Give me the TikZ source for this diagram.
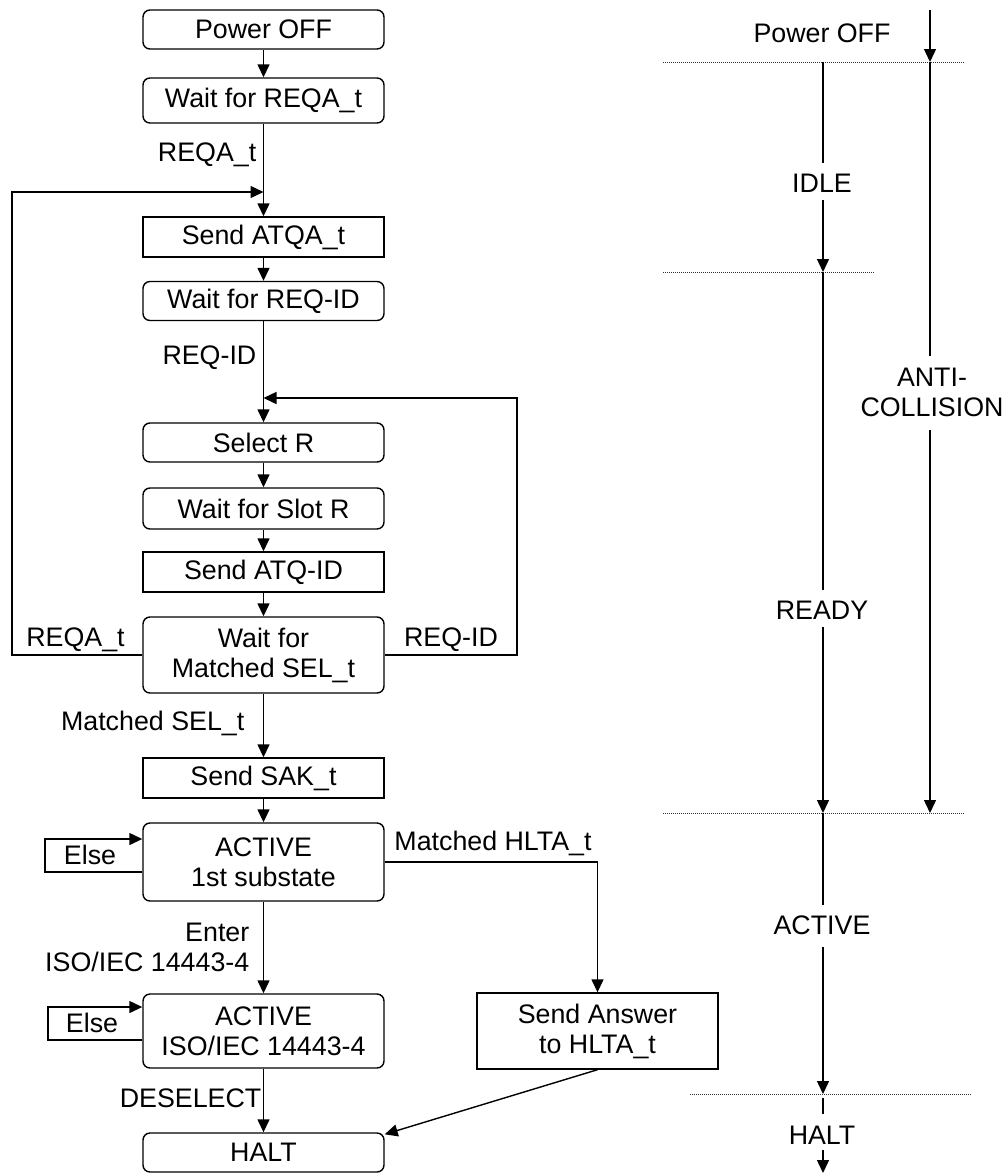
\documentclass[tikz,border=0pt]{standalone}
\usepackage{fontspec}
\setmainfont{Liberation Sans}
\usetikzlibrary{arrows.meta}
\begin{document}
\begin{tikzpicture}[x=1pt,y=-1pt,
  >={Triangle[length=13pt,width=12pt]},
  every path/.style={line width=1.4pt},
  txt/.style={font=\fontsize{26.8}{30}\selectfont, inner sep=0pt, align=center},
  box/.style={txt, draw, line width=1.4pt, minimum width=241pt},
  rbox/.style={box, rounded corners=7pt},
  dotline/.style={line width=0.9pt, dash pattern=on 1pt off 1pt, black!80},
  flow/.style={->}]
\useasboundingbox (0,0) rectangle (1006,1173);

% left column boxes
\node[rbox, minimum height=39pt] (pwr)    at (263.5,29.5)  {Power OFF};
\node[rbox, minimum height=45pt] (wreqa)  at (263.5,100.5) {Wait for REQA\_t};
\node[box,  minimum height=40pt] (satqa)  at (263.5,237)   {Send ATQA\_t};
\node[rbox, minimum height=39pt] (wreqid) at (263.5,301)   {Wait for REQ-ID};
\node[rbox, minimum height=39pt] (sel)    at (263.5,442.5) {Select R};
\node[rbox, minimum height=41pt] (wslot)  at (263.5,508.5) {Wait for Slot R};
\node[box,  minimum height=40pt] (satqid) at (263.5,572)   {Send ATQ-ID};
\node[rbox, minimum height=76pt] (wmsel)  at (263.5,655)   {Wait for\\Matched SEL\_t};
\node[box,  minimum height=40pt] (ssak)   at (263.5,778)   {Send SAK\_t};
\node[rbox, minimum height=78pt] (act1)   at (263.5,862)   {ACTIVE\\1st substate};
\node[rbox, minimum height=74pt] (act4)   at (263.5,1031)  {ACTIVE\\ISO/IEC 14443-4};
\node[rbox, minimum height=39pt] (halt)   at (263.5,1152.5){HALT};
\node[box,  minimum height=76pt] (sans)   at (597.5,1031)  {Send Answer\\to HLTA\_t};

% labels
\node[txt, anchor=east] (lreqa)  at (257,155) {REQA\_t};
\node[txt, anchor=east] (lreqid) at (257,358) {REQ-ID};
\node[txt] (lreqa2)  at (75.5,640) {REQA\_t};
\node[txt] (lreqid2) at (451,640) {REQ-ID};
\node[txt, anchor=east] (lmsel) at (245,723) {Matched SEL\_t};
\node[txt] (else1) at (90,855) {Else};
\node[txt] (else2) at (92,1023) {Else};
\node[txt, anchor=east, align=right] (lenter) at (250,947) {Enter\\ISO/IEC 14443-4};
\node[txt, anchor=east] (ldesel) at (262,1098) {DESELECT};
\node[txt] (lmhlta) at (493,843) {Matched HLTA\_t};

% junction coordinates
\coordinate (j1) at (263.5,192);
\coordinate (j2) at (263.5,398);
\coordinate (hl) at (597.5,862);

% flow arrows
\draw[flow] (pwr) -- (wreqa);
\draw[flow] (wreqa) -- (satqa);
\draw[flow] (satqa) -- (wreqid);
\draw[flow] (wreqid) -- (sel);
\draw[flow] (sel) -- (wslot);
\draw[flow] (wslot) -- (satqid);
\draw[flow] (satqid) -- (wmsel);
\draw[flow] (wmsel) -- (ssak);
\draw[flow] (ssak) -- (act1);
\draw[flow] (act1) -- (act4);
\draw[flow] (act4) -- (halt);
\draw[flow] (wmsel.west) -- (12,655) -- (12,192) -- (j1);
\draw[flow] (wmsel.east) -- (517,655) -- (517,398) -- (j2);
\draw[flow] (act1.east) -- (hl) -- (sans.north);
\draw[flow] (sans.south) -- ([yshift=-2pt]halt.north east);
\draw[flow] (act1.west |- 0,872) -- (45,872) -- (45,839) -- (act1.west |- 0,839);
\draw[flow] (act4.west |- 0,1040) -- (48,1040) -- (48,1007) -- (act4.west |- 0,1007);

% right side: state lanes
\node[txt] (rpwr)  at (822,33)   {Power OFF};
\node[txt] (ridle) at (822,183)  {IDLE};
\node[txt] (rready) at (822,610) {READY};
\node[txt] (ranti) at (932,392)  {ANTI-\\COLLISION};
\node[txt] (ract)  at (822,925)  {ACTIVE};
\node[txt] (rhalt) at (822,1135) {HALT};

\draw[dotline] (663,62) -- (964,62);
\draw[dotline] (663,272) -- (875,272);
\draw[dotline] (663,813) -- (964,813);
\draw[dotline] (690,1094) -- (972,1094);

\draw[->] (930,10) -- (930,62);
\draw (823,62) -- (823,163);
\draw[->] (823,200) -- (823,272);
\draw (823,272) -- (823,590);
\draw[->] (823,627) -- (823,813);
\draw (930,62) -- (930,356);
\draw[->] (930,430) -- (930,813);
\draw (823,813) -- (823,905);
\draw[->] (823,947) -- (823,1094);
\draw (823,1098) -- (823,1114);
\draw[->] (823,1150) -- (823,1173);
\end{tikzpicture}
\end{document}
